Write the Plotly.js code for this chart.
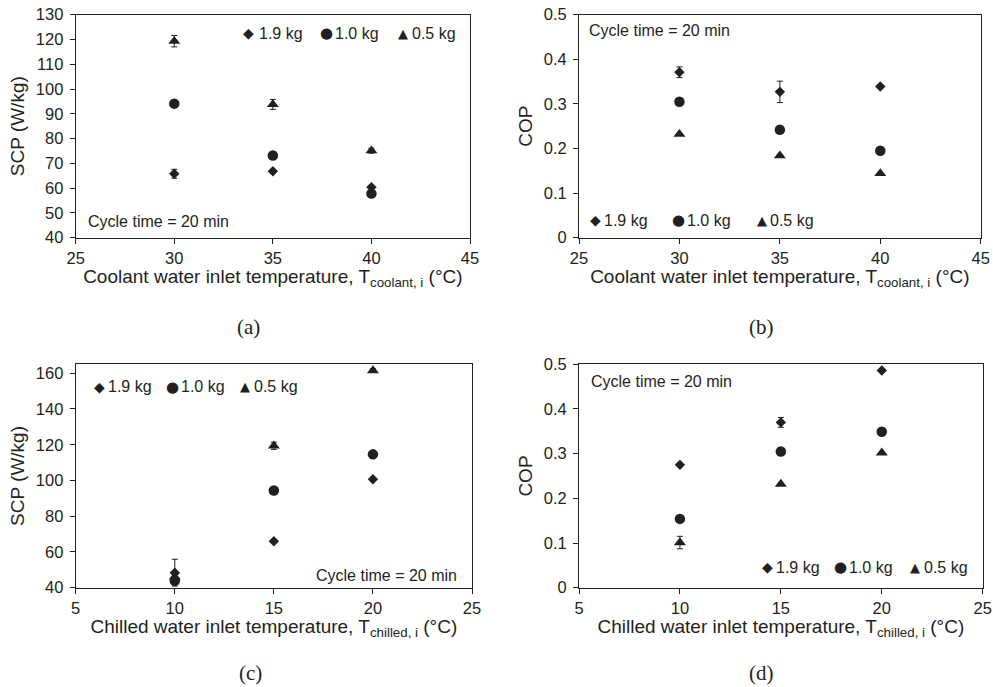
<!DOCTYPE html>
<html><head><meta charset="utf-8">
<script src="https://cdn.plot.ly/plotly-3.0.1.min.js"></script>
<style>html,body{margin:0;padding:0;background:#fff}#chart{width:993px;height:687px}</style>
</head><body><div id="chart"></div>
<script>
// ---------- data ----------
const coolantTemps = [30, 35, 40];
const chilledTemps = [10, 15, 20];
const seriesNames = ['1.9 kg', '1.0 kg', '0.5 kg'];

// (a) SCP vs coolant inlet temperature
const scpCoolant19 = [65.8, 66.8, 60.4];
const scpCoolant10 = [94.1, 73.2, 57.8];
const scpCoolant05 = [119.3, 93.8, 75.1];
const scpCoolant19Err = [1.8, 0, 0];
const scpCoolant10Err = [0, 0, 0];
const scpCoolant05Err = [2.3, 2.0, 1.0];

// (b) COP vs coolant inlet temperature
const copCoolant19 = [0.371, 0.327, 0.339];
const copCoolant10 = [0.305, 0.242, 0.195];
const copCoolant05 = [0.232, 0.184, 0.144];
const copCoolant19Err = [0.012, 0.024, 0];
const copCoolant10Err = [0, 0, 0];
const copCoolant05Err = [0, 0, 0];

// (c) SCP vs chilled inlet temperature
const scpChilled19 = [48.4, 66.0, 100.7];
const scpChilled10 = [43.9, 94.4, 114.6];
const scpChilled05 = [46.0, 119.4, 161.5];
const scpChilled19Err = [7.5, 0, 0];
const scpChilled10Err = [0, 0, 0];
const scpChilled05Err = [0, 2.0, 1.0];

// (d) COP vs chilled inlet temperature
const copChilled19 = [0.275, 0.370, 0.486];
const copChilled10 = [0.154, 0.305, 0.349];
const copChilled05 = [0.101, 0.232, 0.302];
const copChilled19Err = [0, 0.011, 0];
const copChilled10Err = [0, 0, 0];
const copChilled05Err = [0.014, 0, 0];

const xTitleCoolant = 'Coolant water inlet temperature, T<sub>coolant, i</sub> (°C)';
const xTitleChilled = 'Chilled water inlet temperature, T<sub>chilled, i</sub> (°C)';
const yTitleSCP = 'SCP (W/kg)';
const yTitleCOP = 'COP';
const cycleNote = 'Cycle time = 20 min';
const captions = ['(a)', '(b)', '(c)', '(d)'];
const legendGlyphs = ['◆', '●', '▲'];

// ---------- styling ----------
const W = 993, H = 687;
const INK = '#231f20';
const FONT = 'Arial';
const SERIF = 'Times New Roman';
const symbols = ['diamond', 'circle', 'triangle-up'];
const sizes = [8, 10.5, 10.5];
const px = x => x / W;
const py = y => 1 - y / H;

const panels = [
  {xs: coolantTemps, ys: [scpCoolant19, scpCoolant10, scpCoolant05], es: [scpCoolant19Err, scpCoolant10Err, scpCoolant05Err]},
  {xs: coolantTemps, ys: [copCoolant19, copCoolant10, copCoolant05], es: [copCoolant19Err, copCoolant10Err, copCoolant05Err]},
  {xs: chilledTemps, ys: [scpChilled19, scpChilled10, scpChilled05], es: [scpChilled19Err, scpChilled10Err, scpChilled05Err]},
  {xs: chilledTemps, ys: [copChilled19, copChilled10, copChilled05], es: [copChilled19Err, copChilled10Err, copChilled05Err]}
];

const traces = [];
panels.forEach((p, i) => {
  const sfx = i === 0 ? '' : String(i + 1);
  p.ys.forEach((yv, k) => {
    traces.push({
      type: 'scatter', mode: 'markers', name: seriesNames[k],
      x: p.xs, y: yv, xaxis: 'x' + sfx, yaxis: 'y' + sfx, showlegend: false,
      marker: {symbol: symbols[k], size: sizes[k], color: INK, line: {width: 0}},
      error_y: {type: 'data', array: p.es[k], visible: true, color: INK, thickness: 1, width: 3}
    });
  });
});

function axis(range, dtick, title, domain, anchor, isY) {
  return {
    range: range, dtick: dtick, tick0: 0, domain: domain, anchor: anchor,
    showline: true, mirror: true, linecolor: INK, linewidth: 1,
    ticks: 'outside', ticklen: 5, tickwidth: 1, tickcolor: INK,
    showgrid: false, zeroline: false, fixedrange: true,
    tickfont: {family: FONT, size: 16.5, color: INK},
    ticklabelstandoff: isY ? 3 : 0,
    title: {text: title, font: {family: FONT, size: 19, color: INK}, standoff: isY ? 6 : 2}
  };
}

const colL = [px(75.7), px(470)], colL2 = [px(75.7), px(472)];
const colR = [px(579), px(980.7)], colR2 = [px(579), px(982.7)];
const rowT = [py(237.7), py(14.7)], rowB = [py(587.7), py(364.3)];

const layout = {
  width: W, height: H, margin: {l: 0, r: 0, t: 0, b: 0},
  paper_bgcolor: '#fff', plot_bgcolor: '#fff', showlegend: false,
  xaxis:  axis([25, 45], 5, xTitleCoolant, colL, 'y', false),
  yaxis:  axis([40, 130], 10, yTitleSCP, rowT, 'x', true),
  xaxis2: axis([25, 45], 5, xTitleCoolant, colR, 'y2', false),
  yaxis2: axis([0, 0.5], 0.1, yTitleCOP, rowT, 'x2', true),
  xaxis3: axis([5, 25], 5, xTitleChilled, colL2, 'y3', false),
  yaxis3: axis([40, 165], 20, yTitleSCP, rowB, 'x3', true),
  xaxis4: axis([5, 25], 5, xTitleChilled, colR2, 'y4', false),
  yaxis4: axis([0, 0.5], 0.1, yTitleCOP, rowB, 'x4', true),
  annotations: []
};

// cycle-time notes
const notes = [[86, 221.7, 'left'], [586.7, 30.7, 'left'], [459.3, 575.7, 'right'], [589, 381.7, 'left']];
notes.forEach(n => layout.annotations.push({
  xref: 'paper', yref: 'paper', x: px(n[0]), y: py(n[1]), xanchor: n[2], yanchor: 'middle',
  text: cycleNote, showarrow: false, font: {family: FONT, size: 16, color: INK}
}));

// captions
const capPos = [[248, 327], [761, 327], [250, 673], [761, 673]];
capPos.forEach((c, i) => layout.annotations.push({
  xref: 'paper', yref: 'paper', x: px(c[0]), y: py(c[1]), xanchor: 'center', yanchor: 'middle',
  text: captions[i], showarrow: false, font: {family: SERIF, size: 21, color: INK}
}));

// in-plot legends
const legPos = [
  {y: 33.3, items: [[248, 257], [326, 333], [402.5, 410]]},
  {y: 220, items: [[595, 602], [678, 685], [761.5, 768]]},
  {y: 386.7, items: [[99, 106], [172, 179], [244.5, 252]]},
  {y: 567.3, items: [[767, 774], [840, 847], [914.5, 922]]}
];
const glyphSizes = [14, 15, 13];
legPos.forEach(L => L.items.forEach((it, k) => {
  layout.annotations.push({
    xref: 'paper', yref: 'paper', x: px(it[0]), y: py(L.y), xanchor: 'center', yanchor: 'middle',
    text: legendGlyphs[k], showarrow: false, font: {family: 'DejaVu Sans', size: glyphSizes[k], color: INK}
  });
  layout.annotations.push({
    xref: 'paper', yref: 'paper', x: px(it[1]), y: py(L.y), xanchor: 'left', yanchor: 'middle',
    text: seriesNames[k], showarrow: false, font: {family: FONT, size: 16, color: INK}
  });
}));

Plotly.newPlot('chart', traces, layout, {displayModeBar: false, staticPlot: true});
</script>
</body></html>
